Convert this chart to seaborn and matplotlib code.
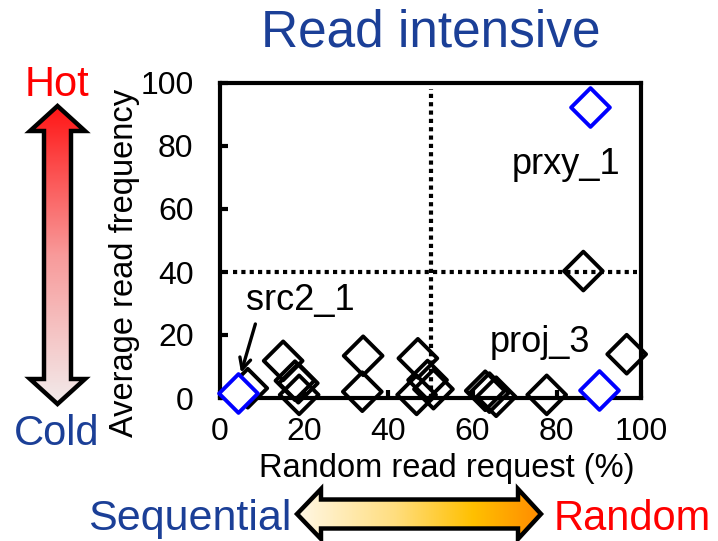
import numpy as np
import pandas as pd
import matplotlib
matplotlib.use("Agg")
import matplotlib.pyplot as plt
import seaborn as sns
from matplotlib.colors import LinearSegmentedColormap
from matplotlib.patches import Polygon

# workloads (random read %, average read frequency)
black_x = [86.3, 96.6, 15.0, 34.0, 47.0, 6.6, 17.8, 18.6, 18.8, 33.8,
           49.3, 50.7, 46.7, 63.0, 64.0, 65.6, 77.6]
black_y = [40.3, 13.9, 11.8, 13.4, 12.6, 3.1, 5.5, 4.7, 1.0, 2.0,
           5.7, 2.8, 1.0, 2.3, 1.7, 0.4, 1.0]
blue_names = ["prxy_1", "src2_1", "proj_3"]
blue_x = [87.9, 4.2, 90.0]
blue_y = [92.5, 1.5, 2.5]

ticks = [0, 20, 40, 60, 80, 100]
threshold_x = 50
threshold_y = 40

DARK_BLUE = "#1B3F97"
RED = "#FF0000"

sns.set_style("ticks")
plt.rcParams["font.family"] = ["Liberation Sans", "DejaVu Sans"]
plt.rcParams.update({"text.color": "black", "axes.labelcolor": "black",
                     "xtick.color": "black", "ytick.color": "black"})

W, H = 718, 541
fig = plt.figure(figsize=(W / 100, H / 100), dpi=100)
ax = fig.add_axes([220 / W, 1 - 398 / H, 421 / W, 315 / H])

df_black = pd.DataFrame({"x": black_x, "y": black_y})
df_blue = pd.DataFrame({"x": blue_x, "y": blue_y, "name": blue_names})

# quadrant guides
ax.axvline(threshold_x, ymax=0.98, color="black", ls=(0, (1, 1)), lw=3, zorder=1)
ax.axhline(threshold_y, xmin=0.03, xmax=0.99, color="black", ls=(0, (1, 1)), lw=3, zorder=1)

sns.scatterplot(data=df_black, x="x", y="y", marker="D", s=390,
                facecolor="none", edgecolor="black", linewidth=2.8,
                ax=ax, zorder=3, clip_on=False)
sns.scatterplot(data=df_blue, x="x", y="y", marker="D", s=390,
                facecolor="white", edgecolor="#0000FF", linewidth=2.8,
                ax=ax, zorder=4, clip_on=False)

ax.set_xlim(0, 100)
ax.set_ylim(0, 100)
ax.set_xticks(ticks)
ax.set_yticks(ticks)
ax.tick_params(axis="both", direction="in", length=6, width=3,
               labelsize=23, colors="black")
ax.tick_params(axis="y", pad=19)
ax.tick_params(axis="x", pad=14)
for sp in ax.spines.values():
    sp.set_linewidth(3)
    sp.set_color("black")
    sp.set_visible(True)

ax.set_xlabel("Random read request (%)", fontsize=23.5)
ax.set_ylabel("Average read frequency", fontsize=23.5)
ax.xaxis.set_label_coords((447 - 220) / 421, (398 - 468) / 315)
ax.xaxis.label.set_va("center")
ax.yaxis.set_label_coords((125 - 220) / 421, (398 - 263) / 315)
ax.yaxis.label.set_va("center")

ax.set_title("Read intensive", fontsize=37, color=DARK_BLUE, pad=26)

# workload labels
ax.text(95, 74, "prxy_1", fontsize=26, ha="right", va="center")
ax.text(76, 17.5, "proj_3", fontsize=26, ha="center", va="center")
ax.text(19, 31, "src2_1", fontsize=26, ha="center", va="center")
ax.annotate("", xy=(5.0, 8.0), xytext=(8.4, 23.5),
            arrowprops=dict(arrowstyle="->", color="black", lw=2.4,
                            shrinkA=0, shrinkB=0, mutation_scale=20))

# overlay in pixel coordinates for the Hot/Cold and Sequential/Random arrows
ov = fig.add_axes([0, 0, 1, 1], zorder=-1)
ov.set_xlim(0, W)
ov.set_ylim(H, 0)
ov.axis("off")


def gradient_arrow(points, colors, vertical, extent):
    poly = Polygon(points, closed=True, facecolor="none", edgecolor="black",
                   lw=3.2, joinstyle="miter", zorder=3)
    cmap = LinearSegmentedColormap.from_list("g", colors)
    grad = np.linspace(0, 1, 256)
    img = grad.reshape(-1, 1) if vertical else grad.reshape(1, -1)
    im = ov.imshow(img, cmap=cmap, extent=extent, aspect="auto",
                   interpolation="bicubic", zorder=2)
    ov.add_patch(poly)
    im.set_clip_path(poly)


v_pts = [(57.5, 106), (85, 131), (71, 131), (71, 379), (85, 379), (57.5, 404),
         (30, 379), (44, 379), (44, 131), (30, 131)]
gradient_arrow(v_pts, ["#FF1414", "#F89A9A", "#F2ECEC"], True, (28, 87, 406, 104))

h_pts = [(297, 514), (321, 489), (321, 499.5), (518, 499.5), (518, 489), (541, 514),
         (518, 539), (518, 528.5), (321, 528.5), (321, 539)]
gradient_arrow(h_pts, [(0, "#FFF8E8"), (0.4, "#FFDE80"), (0.72, "#FFC000"), (1, "#FF8A00")],
               False, (295, 543, 541, 487))

ov.text(57, 85, "Hot", color=RED, fontsize=30, ha="center", va="center")
ov.text(57, 434, "Cold", color=DARK_BLUE, fontsize=30, ha="center", va="center")
ov.text(291, 519, "Sequential", color=DARK_BLUE, fontsize=31, ha="right", va="center")
ov.text(554, 519, "Random", color=RED, fontsize=30, ha="left", va="center")

fig.savefig("out.png", dpi=100)
